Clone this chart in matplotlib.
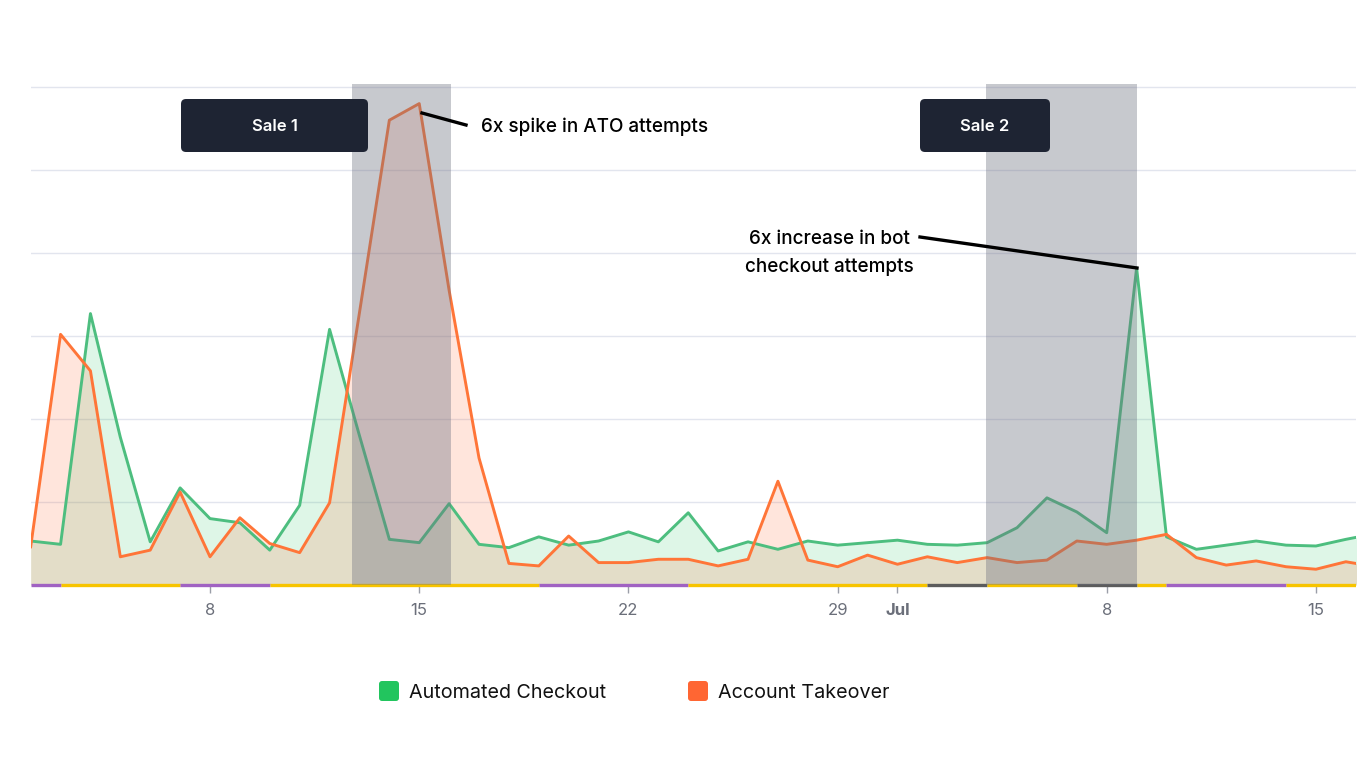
import matplotlib
matplotlib.use('Agg')
import matplotlib.pyplot as plt
from matplotlib.patches import FancyBboxPatch, Rectangle
from matplotlib.lines import Line2D

plt.rcParams['font.family'] = ['Inter', 'DejaVu Sans']

# ---------------- data ----------------
# days counted from Jun 1 (=0): Jun 2 .. Jul 17
days = list(range(1, 47))
automated_checkout = [0.53, 0.49, 3.27, 1.78, 0.52, 1.17, 0.80, 0.75, 0.42, 0.96,
                      3.08, 1.80, 0.55, 0.51, 0.98, 0.49, 0.45, 0.58, 0.48, 0.53,
                      0.64, 0.52, 0.87, 0.41, 0.52, 0.43, 0.53, 0.48, 0.51, 0.54,
                      0.49, 0.48, 0.51, 0.69, 1.05, 0.88, 0.63, 3.82, 0.58, 0.43,
                      0.48, 0.53, 0.48, 0.47, 0.55, 0.62]
account_takeover = [0.46, 3.02, 2.58, 0.34, 0.42, 1.12, 0.34, 0.81, 0.50, 0.39,
                    0.99, 3.28, 5.60, 5.80, 3.55, 1.53, 0.26, 0.23, 0.59, 0.27,
                    0.27, 0.31, 0.31, 0.23, 0.31, 1.25, 0.30, 0.22, 0.36, 0.25,
                    0.34, 0.27, 0.33, 0.27, 0.30, 0.53, 0.49, 0.54, 0.61, 0.33,
                    0.24, 0.29, 0.22, 0.19, 0.28, 0.22]
# which minor series shows on the baseline between consecutive days
baseline_series = (['P'] + ['Y'] * 4 + ['P'] * 3 + ['Y'] * 9 + ['P'] * 5 + ['Y'] * 8 +
                   ['G'] * 2 + ['Y'] * 3 + ['G'] * 2 + ['Y'] + ['P'] * 4 + ['Y'] * 3)
tick_days = [7, 14, 21, 28, 30, 37, 44]
tick_labels = ['8', '15', '22', '29', 'Jul', '8', '15']
sale_windows = [(11.75, 15.05), (32.95, 38.0)]
sale_labels = ['Sale 1', 'Sale 2']
series_names = ['Automated Checkout', 'Account Takeover']

# ---------------- style ----------------
GREEN_LINE = '#4DBE7F'
GREEN = '#22C55E'
ORANGE_LINE = '#FF7538'
ORANGE = '#FF6633'
BASE_COLORS = {'P': '#A062C2', 'Y': '#F7C400', 'G': '#5C5C5C'}
NAVY = '#1E2433'

W, H = 1366, 768
fig = plt.figure(figsize=(W / 100, H / 100), dpi=100)
L, R, T, B = 30.66, 1356, 84, 585
ax = fig.add_axes([L / W, 1 - B / H, (R - L) / W, (B - T) / H])
ax.set_xlim(1, 45.34)
ax.set_ylim(0, 6 + 3 / 83)

for s in ax.spines.values():
    s.set_visible(False)
ax.set_yticks([1, 2, 3, 4, 5, 6])
ax.yaxis.set_tick_params(length=0, labelleft=False)
ax.grid(axis='y', color='#E2E5EE', linewidth=1.0, zorder=0)
ax.set_axisbelow(True)

ax.set_xticks(tick_days, tick_labels)
ax.tick_params(axis='x', length=6, width=1, color='#9A9EA8', labelsize=12,
               labelcolor='#6B6F7A', pad=7)
ax.get_xticklabels()[4].set_fontweight('bold')

ax.fill_between(days, 0, automated_checkout, color=GREEN, alpha=0.15, lw=0, zorder=1)
ax.fill_between(days, 0, account_takeover, color=ORANGE, alpha=0.17, lw=0, zorder=1)
ax.plot(days, automated_checkout, color=GREEN_LINE, lw=2.1, zorder=3)
ax.plot(days, account_takeover, color=ORANGE_LINE, lw=2.1, zorder=3)

# baseline strips: group consecutive runs of the same minor series
clip = Rectangle((0, -0.03), 1, 1.06, transform=ax.transAxes, visible=False)
ax.add_patch(clip)
runs = []
start = 0
for i in range(1, len(baseline_series) + 1):
    if i == len(baseline_series) or baseline_series[i] != baseline_series[start]:
        runs.append((start, i, baseline_series[start]))
        start = i
for s0, s1, c in runs:
    ln, = ax.plot([days[s0], days[s1]], [0, 0], color=BASE_COLORS[c], lw=2.4,
                  solid_capstyle='butt', zorder=4)
    ln.set_clip_path(clip)

for (a, b) in sale_windows:
    ax.axvspan(a, b, color='#6E7180', alpha=0.38, lw=0, zorder=5)

# ---------------- annotations (pixel layout) ----------------
def fx(x):
    return x / W

def fy(y):
    return 1 - y / H

def box(x0, y0, x1, y1, color, rs):
    p = FancyBboxPatch((x0 / 100, (H - y1) / 100), (x1 - x0) / 100, (y1 - y0) / 100,
                       boxstyle=f'round,pad=0,rounding_size={rs}',
                       transform=fig.dpi_scale_trans, facecolor=color,
                       edgecolor='none', zorder=10)
    fig.add_artist(p)

box(181, 99, 368, 152, NAVY, 0.05)
fig.text(fx(274.5), fy(126.5), sale_labels[0], color='white', fontsize=12,
         fontweight='semibold', ha='center', va='center', zorder=11)
box(920, 99, 1050, 152, NAVY, 0.05)
fig.text(fx(985), fy(126.5), sale_labels[1], color='white', fontsize=12,
         fontweight='semibold', ha='center', va='center', zorder=11)

fig.add_artist(Line2D([fx(422), fx(466)], [fy(113), fy(125)], color='black',
                      lw=2.4, transform=fig.transFigure, zorder=12))
fig.text(fx(481), fy(127), '6x spike in ATO attempts', fontsize=13.6,
         fontweight='medium', color='black', ha='left', va='center', zorder=12)

fig.add_artist(Line2D([fx(920), fx(1137)], [fy(237), fy(268)], color='black',
                      lw=2.4, transform=fig.transFigure, zorder=12))
fig.text(fx(829), fy(253), '6x increase in bot\ncheckout attempts', fontsize=13.6,
         fontweight='medium', color='black', ha='center', va='center',
         linespacing=1.75, zorder=12)

# legend
box(379, 681, 399, 701, GREEN, 0.03)
fig.text(fx(409), fy(692.5), series_names[0], fontsize=14.2, color='#111111',
         ha='left', va='center')
box(688, 681, 708, 701, ORANGE, 0.03)
fig.text(fx(718), fy(692.5), series_names[1], fontsize=14.2, color='#111111',
         ha='left', va='center')

fig.savefig('out.png', dpi=100, facecolor='white')
